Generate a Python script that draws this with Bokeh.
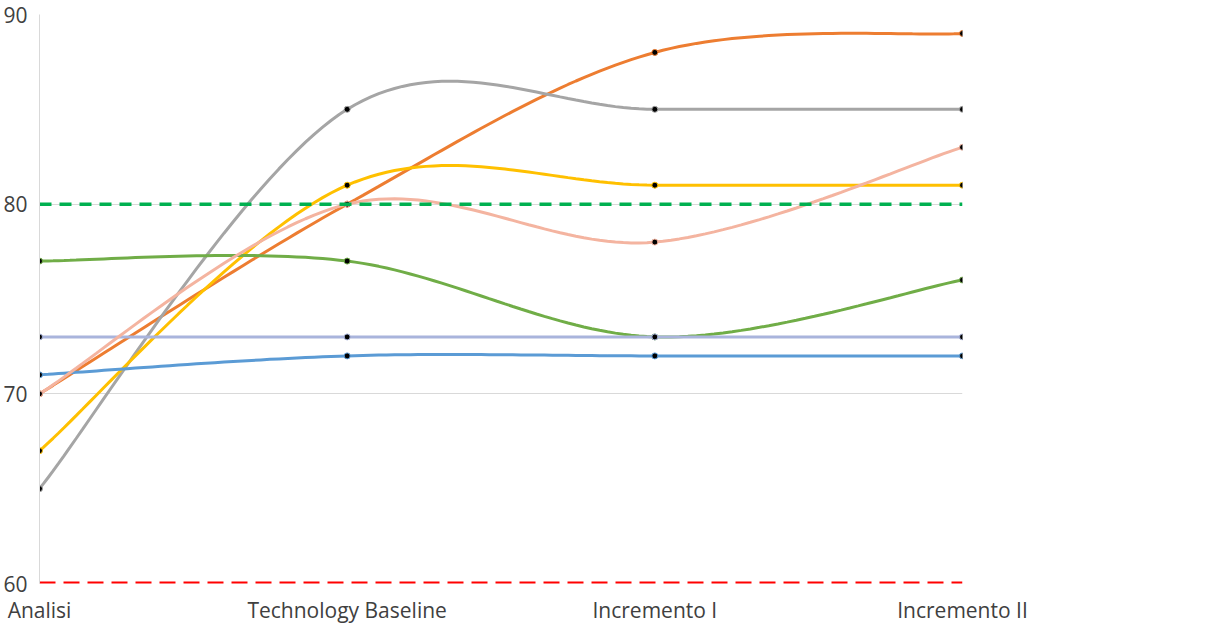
import numpy as np
from bokeh.plotting import figure
from bokeh.models import Legend, LegendItem, FixedTicker, Range1d
from bokeh.embed import file_html
from bokeh.resources import INLINE

categories = ["Analisi", "Technology Baseline", "Incremento I", "Incremento II"]
series = {
    "AdR": [70, 80, 88, 89],
    "PdP": [65, 85, 85, 85],
    "PdQ": [67, 81, 81, 81],
    "Glo": [71, 72, 72, 72],
    "NdP": [77, 77, 73, 76],
    "SdF": [73, 73, 73, 73],
    "Verbali": [70, 80, 78, 83],
}
colors = {"AdR": "#ED7D31", "PdP": "#A5A5A5", "PdQ": "#FFC000", "Glo": "#5B9BD5",
          "NdP": "#70AD47", "SdF": "#A9B4DC", "Verbali": "#F4B4A0"}
ottimale = 80
accettabile = 60

def smooth(xs, ys, n=40):
    xs = np.asarray(xs, float); ys = np.asarray(ys, float)
    P = np.column_stack([xs, ys])
    out = []
    for i in range(len(P) - 1):
        p0 = P[i - 1] if i > 0 else P[i]
        p1, p2 = P[i], P[i + 1]
        p3 = P[i + 2] if i + 2 < len(P) else P[i + 1]
        c1 = p1 + (p2 - p0) / 6
        c2 = p2 - (p3 - p1) / 6
        t = np.linspace(0, 1, n)[:, None]
        seg = (1-t)**3*p1 + 3*(1-t)**2*t*c1 + 3*(1-t)*t**2*c2 + t**3*p2
        out.append(seg if i == 0 else seg[1:])
    s = np.vstack(out)
    return s[:, 0], s[:, 1]

p = figure(frame_width=923, frame_height=569, output_backend="svg", toolbar_location=None,
           x_range=Range1d(0, 3), y_range=Range1d(60, 90),
           min_border_left=39, min_border_bottom=38, min_border_top=14, min_border_right=10)
p.outline_line_color = None
p.xgrid.grid_line_color = None
p.ygrid.grid_line_color = "#D9D9D9"
p.yaxis.ticker = FixedTicker(ticks=[60, 70, 80, 90])
p.xaxis.ticker = FixedTicker(ticks=[0, 1, 2, 3])
p.xaxis.major_label_overrides = {i: c for i, c in enumerate(categories)}
for ax in (p.xaxis, p.yaxis):
    ax.major_tick_line_color = None
    ax.minor_tick_line_color = None
    ax.major_label_text_font = "Open Sans"
    ax.major_label_text_font_size = "21px"
    ax.major_label_text_color = "#404040"
    ax.major_label_standoff = 6
p.yaxis.axis_line_color = "#D9D9D9"
p.xaxis.axis_line_color = None

xs = list(range(len(categories)))
items = []
for name, vals in series.items():
    sx, sy = smooth(xs, vals)
    l = p.line(sx, sy, line_color=colors[name], line_width=3)
    s = p.scatter(xs, vals, size=6, fill_color="black", line_color=colors[name], line_width=1)
    items.append(LegendItem(label=name, renderers=[l, s]))
lo = p.line([0, 3], [ottimale, ottimale], line_color="#00B050", line_width=3.5, line_dash="12 8")
la = p.line([0, 3], [accettabile, accettabile], line_color="#FF0000", line_width=4, line_dash="16 8")
items.append(LegendItem(label="Ottimale", renderers=[lo]))
items.append(LegendItem(label="Accettabile", renderers=[la]))

leg = Legend(items=items, location="center", border_line_color=None,
             label_text_font="Open Sans", label_text_font_size="20px", label_text_color="#404040",
             glyph_width=56, glyph_height=20, label_height=20, spacing=29, padding=0, margin=45,
             label_standoff=14)
p.add_layout(leg, "right")

open("out.html", "w").write(file_html(p, INLINE))
